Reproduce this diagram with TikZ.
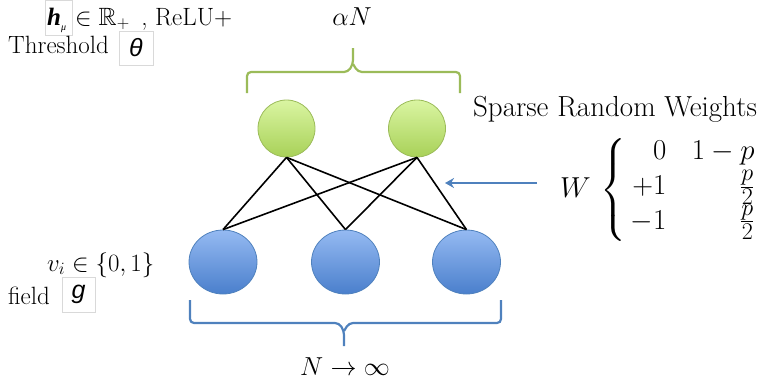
\documentclass[tikz,border=0pt]{standalone}
\usepackage{amsmath,amssymb}
\usepackage{fontspec}
\newfontfamily\boxsans{Liberation Sans}
\newfontfamily\boxserif{Liberation Serif}
\usetikzlibrary{decorations.pathreplacing,arrows.meta,calc,shapes.geometric}
\definecolor{gtop}{HTML}{DAF5A2}
\definecolor{gbot}{HTML}{A8D158}
\definecolor{gline}{HTML}{9BBB59}
\definecolor{btop}{HTML}{95BAF2}
\definecolor{bbot}{HTML}{4A7FCC}
\definecolor{bline}{HTML}{4F81BD}
\definecolor{boxgray}{HTML}{D9D9D9}
\tikzset{
  hidden/.style={circle,draw=gline,line width=0.8pt,top color=gtop,bottom color=gbot,minimum size=57pt,inner sep=0pt},
  visible/.style={ellipse,draw=bline,line width=0.8pt,top color=btop,bottom color=bbot,minimum width=68pt,minimum height=64pt,inner sep=0pt},
  conn/.style={draw=black,line width=1.6pt},
  brace/.style={line width=2.2pt,rounded corners=4pt},
  varbox/.style={draw=boxgray,line width=0.6pt,fill=white,inner sep=0pt},
  txt/.style={inner sep=0pt,font=\fontsize{25}{30}\selectfont},
  bigtxt/.style={inner sep=0pt,font=\fontsize{24.88}{30}\selectfont,scale=1.045},
}
\begin{document}
\begin{tikzpicture}[x=1pt,y=-1pt]
\useasboundingbox (0,0) rectangle (759,383);
% hidden units
\node[hidden] (h1) at (286.5,128.5) {};
\node[hidden] (h2) at (417,128.5) {};
% visible units
\node[visible] (v1) at (223,262) {};
\node[visible] (v2) at (345.5,262) {};
\node[visible] (v3) at (466.5,262) {};
% connections
\foreach \a in {h1,h2}{
  \foreach \b in {v1,v2,v3}{
    \draw[conn] (\a.south) -- (\b.north);
  }
}
% green brace
\coordinate (gl) at (247,93);
\coordinate (gr) at (460,93);
\draw[gline,brace] (gl) -- (247,72) -- (348,72) -- (353,64) -- (353,48);
\draw[gline,brace] (gr) -- (460,72) -- (358,72) -- (353,64);
\node[bigtxt] (aN) at (352,17) {$\alpha N$};
% blue brace
\coordinate (bl) at (190,300);
\coordinate (br) at (501,300);
\draw[bline,brace] (bl) -- (190,323) -- (339,323) -- (344,331) -- (344,346);
\draw[bline,brace] (br) -- (501,323) -- (349,323) -- (344,331);
\node[bigtxt] (Ninf) at (345,367) {$N\to\infty$};
% weights
\node[inner sep=0pt,anchor=base,font=\fontsize{29}{34}\selectfont] (srw) at (615,116) {Sparse Random Weights};
\node[inner sep=0pt,anchor=west,font=\fontsize{24.88}{21}\selectfont,scale=1.16] (Wm) at (560,190) {$W\,\left\{\begin{array}{@{\hspace{4pt}}r@{\hspace{22pt}}r@{}}0 & 1-p\\[3pt] +1 & \frac{p}{2}\\[3pt] -1 & \frac{p}{2}\end{array}\right.$};
\coordinate (arrS) at (537,183);
\coordinate (arrE) at (445,183);
\draw[bline,line width=2pt,-{Stealth[length=9pt,width=10pt]}] (arrS) -- (arrE);
% top-left labels
\node[varbox,minimum width=27pt,minimum height=35pt] (hbox) at (58.5,17.5) {};
\node[txt,anchor=base west] (hmu) at (47,25) {{\boxserif\itshape\bfseries h}\raisebox{-5pt}{\fontsize{10}{12}\selectfont\boxserif\itshape μ}};
\node[txt,anchor=base west] (relu) at (75,25) {$\in\mathbb{R}_+$\ \,, ReLU+};
\node[txt,anchor=base west] (thr) at (8,53) {Threshold};
\node[varbox,minimum width=34pt,minimum height=34pt] (thbox) at (136,48) {};
\node[txt,anchor=center] (theta) at (136,48) {\boxsans\itshape θ};
% bottom-left labels
\node[txt,anchor=base west] (vi) at (47,271) {$v_i\in\{0,1\}$};
\node[txt,anchor=base west] (field) at (8,304) {field};
\node[varbox,minimum width=33pt,minimum height=35pt] (gbox) at (78.5,294.5) {};
\node[txt,anchor=center] (gg) at (78.5,294) {\boxsans\itshape g};
\end{tikzpicture}
\end{document}
